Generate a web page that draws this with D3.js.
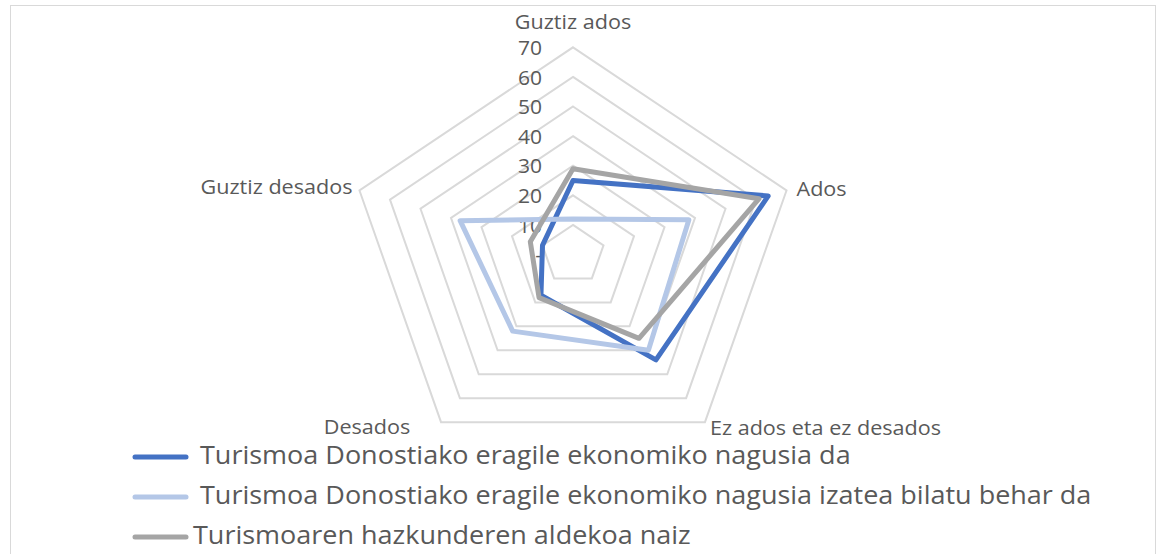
<!DOCTYPE html>
<html>
<head>
<meta charset="utf-8">
<script src="https://cdn.jsdelivr.net/npm/d3@7"></script>
<style>
  html, body { margin: 0; padding: 0; background: #fff; }
  svg { display: block; font-family: "Open Sans", "Noto Sans", sans-serif; }
</style>
</head>
<body>
<div id="chart"></div>
<script>
// Axis categories, clockwise from the top
const axes = ['Guztiz ados', 'Ados', 'Ez ados eta ez desados', 'Desados', 'Guztiz desados'];

// Series values
const seriesA = [25, 64, 44, 17, 10];
const seriesB = [12, 38, 40, 32, 37];
const seriesC = [29, 61, 35, 18, 14];

const seriesNames = [
    'Turismoa Donostiako eragile ekonomiko nagusia da',
    'Turismoa Donostiako eragile ekonomiko nagusia izatea bilatu behar da',
    'Turismoaren hazkunderen aldekoa naiz'
];
const seriesColors = ['#4472C4', '#B4C7E7', '#A5A5A5'];

// Radial ticks
const tickValues = [0, 10, 20, 30, 40, 50, 60, 70];
const tickLabels = ['-', '10', '20', '30', '40', '50', '60', '70'];

const width = 1162, height = 554;
const cx = 573, cy = 254.5;
const rx = 224.5, ry = 207.2;   // picture is slightly stretched horizontally
const stretch = 1.08;
const textColor = '#595959';

const svg = d3.select('#chart')
    .append('svg')
    .attr('width', width)
    .attr('height', height)
    .attr('viewBox', [0, 0, width, height]);

// Chart area border
svg.append('rect')
    .attr('x', 10.5)
    .attr('y', 5.5)
    .attr('width', 1145)
    .attr('height', 600)
    .attr('fill', 'none')
    .attr('stroke', '#D9D9D9')
    .attr('stroke-width', 1);

const r = d3.scaleLinear().domain([0, 70]).range([0, 1]);
const angle = d3.scalePoint().domain(d3.range(axes.length)).range([0, 2 * Math.PI * (axes.length - 1) / axes.length]);

const px = (i, v) => cx + rx * r(v) * Math.sin(angle(i));
const py = (i, v) => cy - ry * r(v) * Math.cos(angle(i));

const line = d3.line()
    .x(d => px(d.i, d.v))
    .y(d => py(d.i, d.v))
    .curve(d3.curveLinearClosed);

// Grid rings
svg.append('g')
    .selectAll('path')
    .data(tickValues.filter(t => t > 0))
    .join('path')
    .attr('d', t => line(axes.map((a, i) => ({ i, v: t }))))
    .attr('fill', 'none')
    .attr('stroke', '#D9D9D9')
    .attr('stroke-width', 2);

// Tick labels along the top axis
svg.append('g')
    .selectAll('text')
    .data(tickValues)
    .join('text')
    .attr('transform', t => `translate(542,${py(0, t)}) scale(${stretch},1)`)
    .attr('text-anchor', 'end')
    .attr('dominant-baseline', 'central')
    .attr('font-size', 19.5)
    .attr('fill', textColor)
    .text((t, i) => tickLabels[i]);

// Series polygons
const allSeries = [seriesA, seriesB, seriesC];
svg.append('g')
    .selectAll('path')
    .data(allSeries)
    .join('path')
    .attr('d', vals => line(vals.map((v, i) => ({ i, v }))))
    .attr('fill', 'none')
    .attr('stroke', (d, i) => seriesColors[i])
    .attr('stroke-width', 5)
    .attr('stroke-linejoin', 'round');

// Axis category labels
const labelPos = [
    { dx: 0, dy: -18, anchor: 'middle' },
    { dx: 10, dy: 6, anchor: 'start' },
    { dx: 5, dy: 13, anchor: 'start' },
    { dx: -74, dy: 12, anchor: 'middle' },
    { dx: -7, dy: 4, anchor: 'end' }
];
svg.append('g')
    .selectAll('text')
    .data(axes)
    .join('text')
    .attr('transform', (a, i) => `translate(${px(i, 70) + labelPos[i].dx},${py(i, 70) + labelPos[i].dy}) scale(${stretch},1)`)
    .attr('text-anchor', (a, i) => labelPos[i].anchor)
    .attr('font-size', 20)
    .attr('fill', textColor)
    .text(a => a);

// Legend
const legend = svg.append('g')
    .selectAll('g')
    .data(seriesNames)
    .join('g')
    .attr('transform', (d, i) => `translate(0,${457 + i * 40})`);

legend.append('line')
    .attr('x1', 135)
    .attr('x2', 186)
    .attr('y1', 0)
    .attr('y2', 0)
    .attr('stroke', (d, i) => seriesColors[i])
    .attr('stroke-width', 5)
    .attr('stroke-linecap', 'round');

legend.append('text')
    .attr('transform', (d, i) => `translate(${i === 2 ? 193 : 200},7) scale(${stretch},1)`)
    .attr('font-size', 25)
    .attr('fill', textColor)
    .text(d => d);
</script>
</body>
</html>
